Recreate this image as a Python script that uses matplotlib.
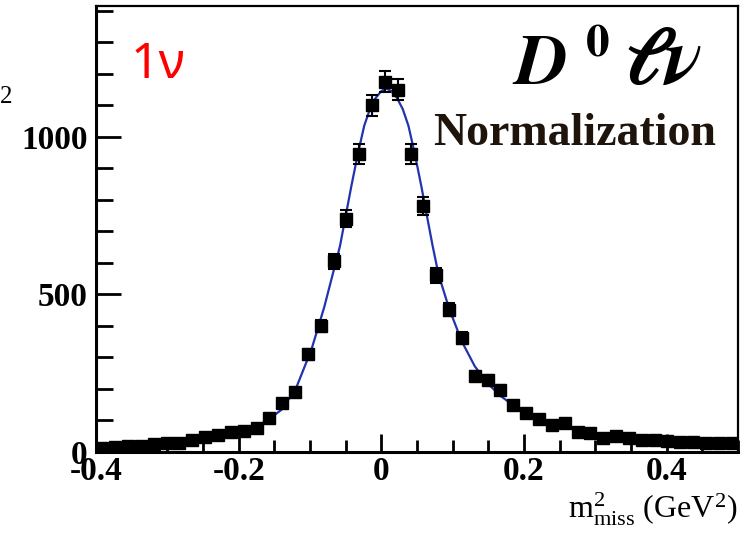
import numpy as np
import matplotlib
matplotlib.use("Agg")
import matplotlib.pyplot as plt
from matplotlib.ticker import MultipleLocator, FixedFormatter, FixedLocator

plt.rcParams["font.family"] = ["Liberation Serif", "DejaVu Serif"]
plt.rcParams["mathtext.fontset"] = "custom"
plt.rcParams["mathtext.rm"] = "Liberation Serif"
plt.rcParams["mathtext.it"] = "Liberation Serif:italic"
plt.rcParams["mathtext.bf"] = "Liberation Serif:bold"

# binned data (m2_miss bin centres, counts per bin)
bin_centers = np.round(-0.391 + 0.018 * np.arange(50), 3)
counts = [14, 16, 18, 20, 25, 28, 30, 38, 48, 55,
          65, 68, 75, 108, 155, 190, 310, 400, 605, 740,
          945, 1100, 1175, 1150, 945, 780, 561, 452, 363, 242,
          229, 197, 150, 124, 105, 86, 92, 64, 60, 45,
          50, 45, 38, 38, 35, 32, 32, 28, 28, 28]
errors = np.sqrt(counts)

# fit curve
fit_x = [-0.40, -0.35, -0.30, -0.25, -0.20, -0.184, -0.16, -0.14, -0.12, -0.098,
         -0.08, -0.058, -0.042, -0.033, -0.024, -0.016, -0.008, 0.0, 0.007, 0.014,
         0.022, 0.030, 0.038, 0.047, 0.056, 0.072, 0.08, 0.095, 0.113, 0.131,
         0.149, 0.167, 0.185, 0.20, 0.25, 0.30, 0.35, 0.40, 0.45, 0.50]
fit_y = [15, 20, 28, 40, 58, 70, 100, 134, 200, 325,
         460, 653, 844, 945, 1035, 1088, 1123, 1145, 1153, 1145,
         1123, 1088, 1035, 945, 844, 653, 565, 455, 350, 272,
         218, 178, 148, 125, 82, 57, 43, 34, 28, 25]

x_ticks = [-0.4, -0.2, 0.0, 0.2, 0.4]
x_labels = ["-0.4", "-0.2", "0", "0.2", "0.4"]
y_ticks = [0, 500, 1000]
y_labels = ["0", "500", "1000"]

fig = plt.figure(figsize=(7.52, 5.35), dpi=100)
ax = fig.add_axes([96 / 752, 83 / 535, 642 / 752, 446 / 535])

ax.plot(fit_x, fit_y, color="#2233b0", lw=1.6, zorder=2)
ax.errorbar(bin_centers, counts, yerr=errors, fmt="s", color="black",
            ms=8.5, capsize=4.5, elinewidth=1.5, capthick=1.5, zorder=3)

ax.set_xlim(-0.4, 0.5)
ax.set_ylim(0, 1415)

ax.xaxis.set_major_locator(FixedLocator(x_ticks))
ax.xaxis.set_major_formatter(FixedFormatter(x_labels))
ax.xaxis.set_minor_locator(MultipleLocator(0.05))
ax.yaxis.set_major_locator(FixedLocator(y_ticks))
ax.yaxis.set_major_formatter(FixedFormatter(y_labels))
ax.yaxis.set_minor_locator(MultipleLocator(100))

ax.tick_params(which="both", direction="in", width=2, labelsize=24)
ax.tick_params(which="major", length=13, pad=3)
ax.tick_params(which="minor", length=9)
ax.tick_params(axis="y", which="major", length=18, pad=6)
ax.tick_params(axis="y", which="minor", length=12)
for lab in ax.get_xticklabels() + ax.get_yticklabels():
    lab.set_fontweight("bold")

for s in ["left", "bottom"]:
    ax.spines[s].set_linewidth(2.2)
for s in ["top", "right"]:
    ax.spines[s].set_linewidth(1.6)

fig.text(738 / 752, 1 - 518 / 535, r"$\mathregular{m^2_{miss}}$ (GeV$^2$)",
         ha="right", va="baseline", fontsize=23)

fig.text(131 / 752, 1 - 78 / 535, "1\u03bd", color="red", fontsize=36,
         family=["Noto Sans", "DejaVu Sans"], va="baseline")

# D^0 l nu label, placed piece by piece to follow the reference spacing
fig.text(512 / 752, 1 - 84 / 535, r"$\mathbfit{D}$", fontsize=52,
         va="baseline", math_fontfamily="stix")
fig.text(585 / 752, 1 - 55 / 535, r"$\mathbf{0}$", fontsize=34,
         va="baseline", math_fontfamily="stix")
fig.text(702 / 752, 1 - 84 / 535, r"$\mathbfit{\ell\nu}$", fontsize=58,
         ha="right", va="baseline", math_fontfamily="stix")

fig.text(716 / 752, 1 - 145 / 535, "Normalization", ha="right", va="baseline",
         fontsize=33, fontweight="bold", color="#1e140c")
fig.text(0, 1 - 103 / 535, "2", fontsize=18, va="baseline")

fig.savefig("out.png", dpi=100)
